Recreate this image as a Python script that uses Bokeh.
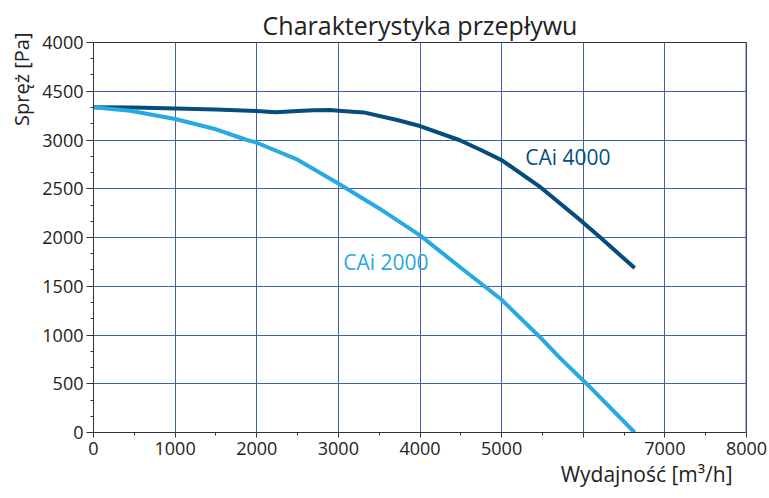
from bokeh.plotting import figure
from bokeh.models import Span, Label, FixedTicker, Title
from bokeh.embed import file_html
from bokeh.resources import INLINE

# data (m3/h, Pa)
cai4000_x = [0, 500, 1000, 1500, 2000, 2230, 2500, 2700, 2900, 3000, 3310, 3720, 4000, 4480, 4740, 5000, 5480, 5990, 6210, 6630]
cai4000_y = [3337, 3333, 3324, 3312, 3298, 3284, 3298, 3306, 3307, 3300, 3283, 3205, 3143, 3000, 2900, 2794, 2513, 2160, 2000, 1686]
cai2000_x = [0, 450, 1000, 1500, 1880, 2000, 2500, 3000, 3500, 4000, 4500, 4790, 5000, 5455, 5720, 6065, 6630]
cai2000_y = [3337, 3300, 3215, 3110, 3000, 2972, 2798, 2554, 2298, 2022, 1690, 1500, 1361, 990, 760, 480, 0]

x_ticks = [0, 1000, 2000, 3000, 4000, 5000, 6000, 7000, 8000]
x_tick_labels = {6000: ""}
y_ticks = [0, 500, 1000, 1500, 2000, 2500, 3000, 3500, 4000]
y_tick_labels = {3500: "4500"}

title_text = "Charakterystyka przepływu"
x_label = "Wydajność [m³/h]"
y_label = "Spręż [Pa]"
series_names = ["CAi 4000", "CAi 2000"]
label_pos = [(5290, 2825), (3060, 1745)]

FONT = "Open Sans"
DARK = "#064d7e"
LIGHT = "#27a9e1"
GRID = "#4262b0"
AX = "#333333"
TXT = "#222222"

p = figure(width=769, height=498, x_range=(0, 8000), y_range=(0, 4000),
           output_backend="svg", toolbar_location=None,
           min_border_left=93, min_border_right=23, min_border_top=42, min_border_bottom=66)

p.title.text = title_text
p.title.align = "center"
p.title.text_font = FONT
p.title.text_font_size = "25px"
p.title.text_font_style = "normal"
p.title.text_color = TXT
p.title.standoff = 2

p.xaxis.ticker = FixedTicker(ticks=x_ticks, minor_ticks=[v + 500 for v in x_ticks[:-1]])
p.yaxis.ticker = FixedTicker(ticks=y_ticks,
                             minor_ticks=[v + d for v in y_ticks[:-1] for d in (167, 333)])
p.xaxis.major_label_overrides = x_tick_labels
p.yaxis.major_label_overrides = y_tick_labels

for ax in (p.xaxis, p.yaxis):
    ax.axis_line_color = AX
    ax.major_tick_line_color = AX
    ax.minor_tick_line_color = AX
    ax.major_tick_in = 0
    ax.minor_tick_in = 0
    ax.major_label_text_font = FONT
    ax.major_label_text_font_size = "18px"
    ax.major_label_text_color = TXT
p.xaxis.major_tick_out = 5
p.xaxis.minor_tick_out = 3
p.yaxis.major_tick_out = 7
p.yaxis.minor_tick_out = 3
p.yaxis.major_label_standoff = 3
p.xaxis.major_label_standoff = 4

p.xgrid.ticker = FixedTicker(ticks=x_ticks)
p.ygrid.ticker = FixedTicker(ticks=y_ticks)
p.grid.grid_line_color = GRID
p.grid.grid_line_width = 1
p.outline_line_color = AX
p.outline_line_width = 1

p.add_layout(Span(location=x_ticks[-1], dimension="height", line_color=GRID, line_width=2))

p.add_layout(Title(text=y_label, align="right", text_font=FONT, text_font_size="20px",
                   text_font_style="normal", text_color=TXT, offset=-10, standoff=10), "left")
p.add_layout(Title(text=x_label, align="right", text_font=FONT, text_font_size="21px",
                   text_font_style="normal", text_color=TXT, offset=14, standoff=0), "below")

p.line(cai4000_x, cai4000_y, line_color=DARK, line_width=4, line_join="round")
p.line(cai2000_x, cai2000_y, line_color=LIGHT, line_width=4, line_join="round")

for name, (lx, ly), col in zip(series_names, label_pos, [DARK, LIGHT]):
    p.add_layout(Label(x=lx, y=ly, text=name, text_color=col, text_font=FONT,
                       text_font_size="21px", text_baseline="middle", text_align="left"))

open("out.html", "w").write(file_html(p, INLINE))
